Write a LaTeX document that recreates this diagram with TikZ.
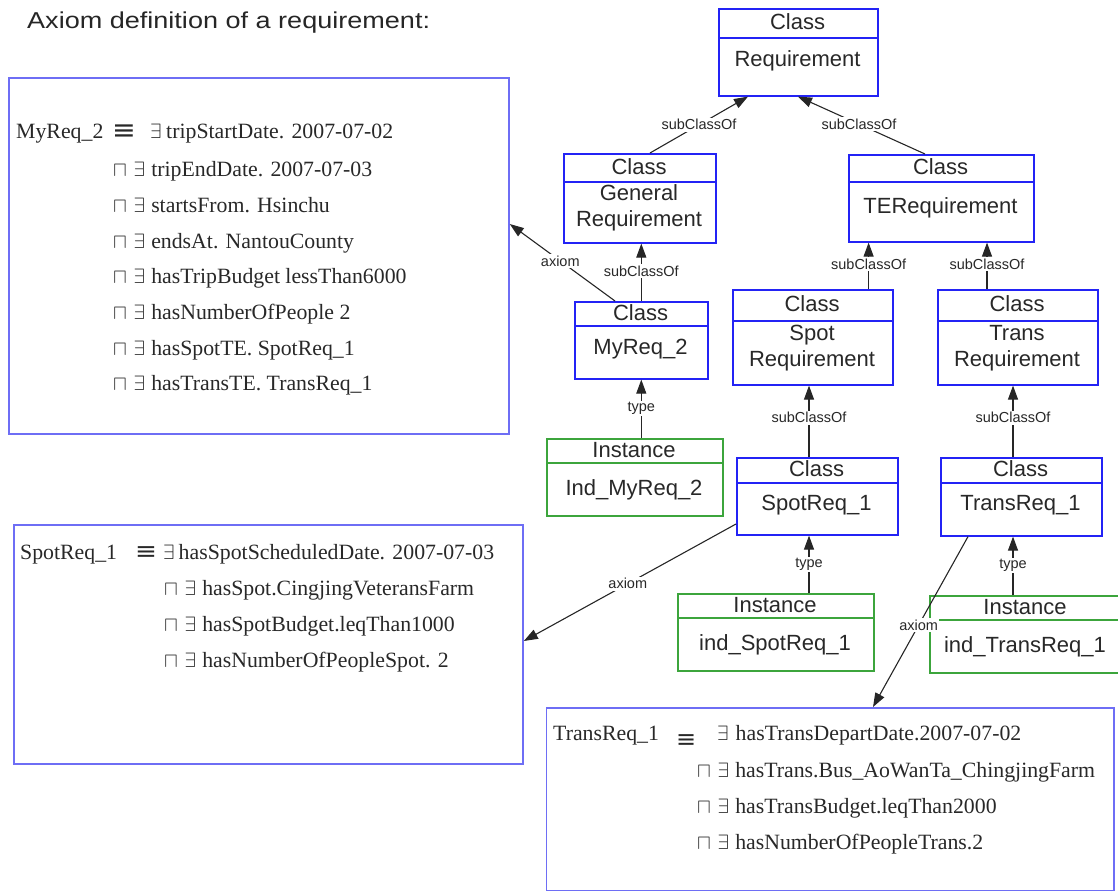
\documentclass[tikz,border=0pt]{standalone}
\usepackage{fontspec}
\setmainfont{Liberation Serif}
\setsansfont{Liberation Sans}
\newfontfamily\symfont{DejaVu Sans}
\usepackage{graphicx}
\usetikzlibrary{arrows.meta,calc}

\definecolor{classblue}{RGB}{35,35,245}
\definecolor{axiomblue}{RGB}{110,110,245}
\definecolor{instgreen}{RGB}{60,165,60}
\definecolor{inkgray}{RGB}{40,40,40}

\tikzset{
  boxline/.style={line width=1.6pt},
  boxframe/.style={draw, boxline, inner sep=0pt, anchor=north west},
  axiomframe/.style={draw=axiomblue, line width=1.8pt, inner sep=0pt, anchor=north west},
  boxhead/.style={font=\sffamily\fontsize{22}{26}\selectfont, text=inkgray, inner sep=0pt,
                  text height=15.8pt, text depth=0pt, align=center},
  boxtwo/.style={boxhead, text height=41.8pt},
  edgelab/.style={font=\sffamily\fontsize{14.5}{16}\selectfont, text=inkgray, fill=white, inner sep=1.5pt},
  link/.style={draw=black!85, line width=1.1pt, -{Triangle[length=14pt,width=10pt]}},
  axtext/.style={font=\fontsize{21.8}{25}\selectfont, text=inkgray, inner sep=0pt, anchor=base west},
}

% UML-like box: name, colour, x1, y1, x2, y2, divider y, header text
\newcommand{\umlbox}[8]{%
  \pgfmathsetmacro{\bw}{#5-#3}%
  \pgfmathsetmacro{\bh}{#6-#4}%
  \node[boxframe, draw=#2, minimum width=\bw pt, minimum height=\bh pt] (#1) at (#3,#4) {};
  \draw[#2, boxline] (#3,#7) -- (#5,#7);
  \node[boxhead] (#1-head) at ({(#3+#5)/2},{(#4+#7)/2-1}) {#8};
}
% axiom box: name, x1, y1, x2, y2
\newcommand{\axbox}[5]{%
  \pgfmathsetmacro{\bw}{#4-#2}%
  \pgfmathsetmacro{\bh}{#5-#3}%
  \node[axiomframe, minimum width=\bw pt, minimum height=\bh pt] (#1) at (#2,#3) {};
}
% conjunct line of an axiom: name, position, text
\newcommand{\conj}[3]{%
  \node[axtext] (#1) at #2 {$\sqcap$\hspace{6.5pt}$\exists$\hspace{6.2pt}#3};
}
% equivalence sign: horizontal and vertical scale
\newcommand{\eqsign}[2]{\scalebox{#1}[#2]{\symfont ≡}}

\begin{document}
\begin{tikzpicture}[x=1pt, y=-1pt]
\useasboundingbox (0,0) rectangle (1118,891);

% title
\node[font=\sffamily\fontsize{23}{28}\selectfont, text=black!85, anchor=base west, inner sep=0pt]
  (title) at (27,29) {\scalebox{1.176}[1]{Axiom definition of a requirement:}};

% class boxes
\umlbox{R}{classblue}{718}{8}{877}{95}{38}{Class}
\node[boxhead] (R-body) at (797.5,59) {Requirement};

\umlbox{G}{classblue}{563}{153}{715}{242}{182}{Class}
\node[boxtwo] (G-body) at (639,206) {General\\Requirement};

\umlbox{TE}{classblue}{848}{154}{1033}{241}{182}{Class}
\node[boxhead] (TE-body) at (940.5,206) {TERequirement};

\umlbox{M}{classblue}{574}{301}{707}{378}{326}{Class}
\node[boxhead] (M-body) at (640.5,347) {MyReq\_2};

\umlbox{S}{classblue}{732}{289}{892}{384}{321}{Class}
\node[boxtwo] (S-body) at (812,346) {Spot\\Requirement};

\umlbox{TR}{classblue}{937}{289}{1097}{384}{321}{Class}
\node[boxtwo] (TR-body) at (1017,346) {Trans\\Requirement};

\umlbox{S1}{classblue}{736}{457}{897}{534}{483}{Class}
\node[boxhead] (S1-body) at (816.5,503) {SpotReq\_1};

\umlbox{T1}{classblue}{940}{457}{1101}{535}{483}{Class}
\node[boxhead] (T1-body) at (1020.5,503) {TransReq\_1};

% instance boxes
\umlbox{IM}{instgreen}{546}{438}{722}{515}{463}{Instance}
\node[boxhead] (IM-body) at (634,488) {Ind\_MyReq\_2};

\umlbox{IS}{instgreen}{677}{593}{873}{670}{618}{Instance}
\node[boxhead] (IS-body) at (775,643) {ind\_SpotReq\_1};

\umlbox{IT}{instgreen}{929}{595}{1121}{672}{620}{Instance}
\node[boxhead] (IT-body) at (1025,645) {ind\_TransReq\_1};

% axiom boxes
\axbox{A1}{8}{77}{508}{433}
\axbox{A2}{13}{524}{522}{763}
\axbox{A3}{545.5}{707}{1113}{889.5}

% axiom of MyReq_2
\node[axtext] (a1-name) at (16,138) {MyReq\_2};
\node[axtext] (a1-eq) at (112,139) {\eqsign{1.3}{1.25}};
\node[axtext] (a1-1) at (150,138) {$\exists$\hspace{4.5pt}tripStartDate. 2007-07-02};
\conj{a1-2}{(113,176)}{tripEndDate. 2007-07-03}
\conj{a1-3}{(113,212)}{startsFrom. Hsinchu}
\conj{a1-4}{(113,248)}{endsAt. NantouCounty}
\conj{a1-5}{(113,283)}{hasTripBudget lessThan6000}
\conj{a1-6}{(113,319)}{hasNumberOfPeople 2}
\conj{a1-7}{(113,355)}{hasSpotTE. SpotReq\_1}
\conj{a1-8}{(113,390)}{hasTransTE. TransReq\_1}

% axiom of SpotReq_1
\node[axtext] (a2-name) at (20,559) {SpotReq\_1};
\node[axtext] (a2-eq) at (135,559) {\eqsign{1.2}{1.1}};
\node[axtext] (a2-1) at (163,559) {$\exists$\hspace{4pt}hasSpotScheduledDate. 2007-07-03};
\conj{a2-2}{(164,595)}{hasSpot.CingjingVeteransFarm}
\conj{a2-3}{(164,631)}{hasSpotBudget.leqThan1000}
\conj{a2-4}{(164,667)}{hasNumberOfPeopleSpot. 2}

% axiom of TransReq_1
\node[axtext] (a3-name) at (553,740) {TransReq\_1};
\node[axtext] (a3-eq) at (676,740) {\raisebox{-7pt}{\eqsign{1.1}{1.1}}};
\node[axtext] (a3-1) at (717,740) {$\exists$\hspace{7pt}hasTransDepartDate.2007-07-02};
\conj{a3-2}{(697,777)}{hasTrans.Bus\_AoWanTa\_ChingjingFarm}
\conj{a3-3}{(697,813)}{hasTransBudget.leqThan2000}
\conj{a3-4}{(697,849)}{hasNumberOfPeopleTrans.2}

% subClassOf links
\draw[link] ($(G.north west)+(87,0)$) -- node[edgelab, pos=0.5] {subClassOf} ($(R.south west)+(30,0)$);
\draw[link] ($(TE.north west)+(77,0)$) -- node[edgelab, pos=0.52] {subClassOf} ($(R.south west)+(80,0)$);
\draw[link] (M.north) -- node[edgelab, pos=0.52] {subClassOf} (M.north |- G.south);
\coordinate (sTE) at ($(S.north east)+(-25,0)$);
\draw[link] (sTE) -- node[edgelab, pos=0.54] {subClassOf} (sTE |- TE.south);
\coordinate (trTE) at ($(TR.north west)+(50,0)$);
\draw[link] (trTE) -- node[edgelab, pos=0.54] {subClassOf} (trTE |- TE.south);
\coordinate (s1S) at ($(S1.north west)+(73,0)$);
\draw[link] (s1S) -- node[edgelab, pos=0.55] {subClassOf} (s1S |- S.south);
\coordinate (t1TR) at ($(T1.north west)+(73,0)$);
\draw[link] (t1TR) -- node[edgelab, pos=0.55] {subClassOf} (t1TR |- TR.south);

% type links
\draw[link] (IM.north -| M.south) -- node[edgelab, pos=0.5] {type} (M.south);
\coordinate (isS1) at ($(IS.north west)+(132,0)$);
\draw[link] (isS1) -- node[edgelab, pos=0.5] {type} (isS1 |- S1.south);
\coordinate (itT1) at ($(IT.north west)+(84,0)$);
\draw[link] (itT1) -- node[edgelab, pos=0.5] {type} (itT1 |- T1.south);

% axiom links
\draw[link] ($(M.north west)+(41,0)$) -- node[edgelab, pos=0.52] {axiom} ($(A1.north east)+(0,147)$);
\draw[link] ($(S1.north west)+(0,67)$) -- node[edgelab, pos=0.51] {axiom} ($(A2.north east)+(0,117)$);
\draw[link] ($(T1.south west)+(28,0)$) -- node[edgelab, pos=0.52] {axiom} ($(A3.north west)+(327.5,0)$);
\end{tikzpicture}
\end{document}
